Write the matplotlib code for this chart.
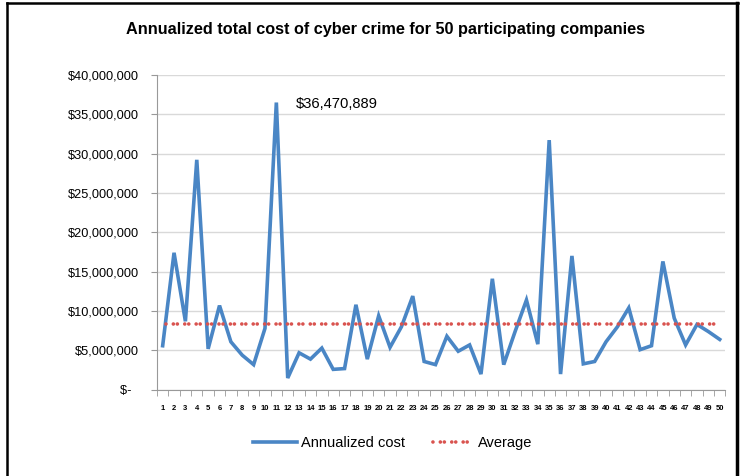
import matplotlib
matplotlib.use('Agg')
from matplotlib import pyplot as plt
from matplotlib.lines import Line2D
from matplotlib.ticker import FuncFormatter

plt.rcParams['font.family'] = ['Liberation Sans', 'DejaVu Sans']

companies = list(range(1, 51))
annual_cost = [5.6, 17.4, 8.7, 29.2, 5.2, 10.7, 6.1, 4.4, 3.2, 7.8,
               36.470889, 1.5, 4.7, 3.9, 5.3, 2.6, 2.7, 10.8, 3.9, 9.4,
               5.4, 8.0, 11.9, 3.6, 3.2, 6.8, 4.9, 5.7, 2.0, 14.1,
               3.2, 7.4, 11.4, 5.8, 31.7, 2.0, 17.0, 3.3, 3.6, 6.1,
               8.0, 10.4, 5.1, 5.6, 16.3, 9.1, 5.7, 8.3, 7.4, 6.4]
annual_cost = [v * 1e6 for v in annual_cost]
average = 8.4e6
peak_label = '$36,470,889'
title = 'Annualized total cost of cyber crime for 50 participating companies'

fig = plt.figure(figsize=(7.44, 4.76), dpi=100)
ax = fig.add_axes([0.211, 0.181, 0.764, 0.662])

ax.plot(companies, annual_cost, color='#4a86c5', lw=2.6,
        solid_joinstyle='miter', label='Annualized cost', zorder=3)
ax.plot(companies, [average] * len(companies), color='#d9534f', lw=2.6,
        linestyle=(0.3, (0.01, 1.1, 0.01, 2.04)), dash_capstyle='round',
        label='Average', zorder=4)

ax.text(12.7, 36.3e6, peak_label, fontsize=10.6, va='center', ha='left')

ax.set_xlim(0.5, 50.5)
ax.set_ylim(0, 40e6)
ax.set_yticks([i * 5e6 for i in range(9)])
ax.yaxis.set_major_formatter(FuncFormatter(
    lambda v, p: '$-  ' if v == 0 else '${:,.0f}'.format(v)))
ax.set_xticks(companies)
ax.set_xticks([i + 0.5 for i in range(0, 51)], minor=True)
ax.tick_params(axis='x', which='major', length=0, pad=11, labelsize=5.5)
ax.tick_params(axis='x', which='minor', length=4, color='#999999', direction='out')
ax.tick_params(axis='y', length=4, color='#999999', labelsize=9.2, pad=9)
for lab in ax.get_xticklabels():
    lab.set_fontweight('bold')
ax.grid(axis='y', color='#d9d9d9', lw=1)
ax.set_axisbelow(True)
for s in ['top', 'right']:
    ax.spines[s].set_visible(False)
ax.spines['left'].set_color('#999999')
ax.spines['bottom'].set_color('#999999')

fig.text(0.518, 0.939, title, ha='center', va='center', fontsize=11.7, fontweight='bold')

leg = fig.legend(loc='center', bbox_to_anchor=(0.528, 0.069), ncol=2, frameon=False,
                 fontsize=10.5, handlelength=3.0, columnspacing=1.7, handletextpad=0.3)

# outer frame
fig.add_artist(Line2D([0.0094, 0.0094], [0, 0.994], transform=fig.transFigure, color='black', lw=1.8))
fig.add_artist(Line2D([0.0094, 0.992], [0.994, 0.994], transform=fig.transFigure, color='black', lw=1.8))
fig.add_artist(Line2D([0.991, 0.991], [0, 0.994], transform=fig.transFigure, color='black', lw=2.5))

plt.savefig('out.png', dpi=100)
plt.close()
